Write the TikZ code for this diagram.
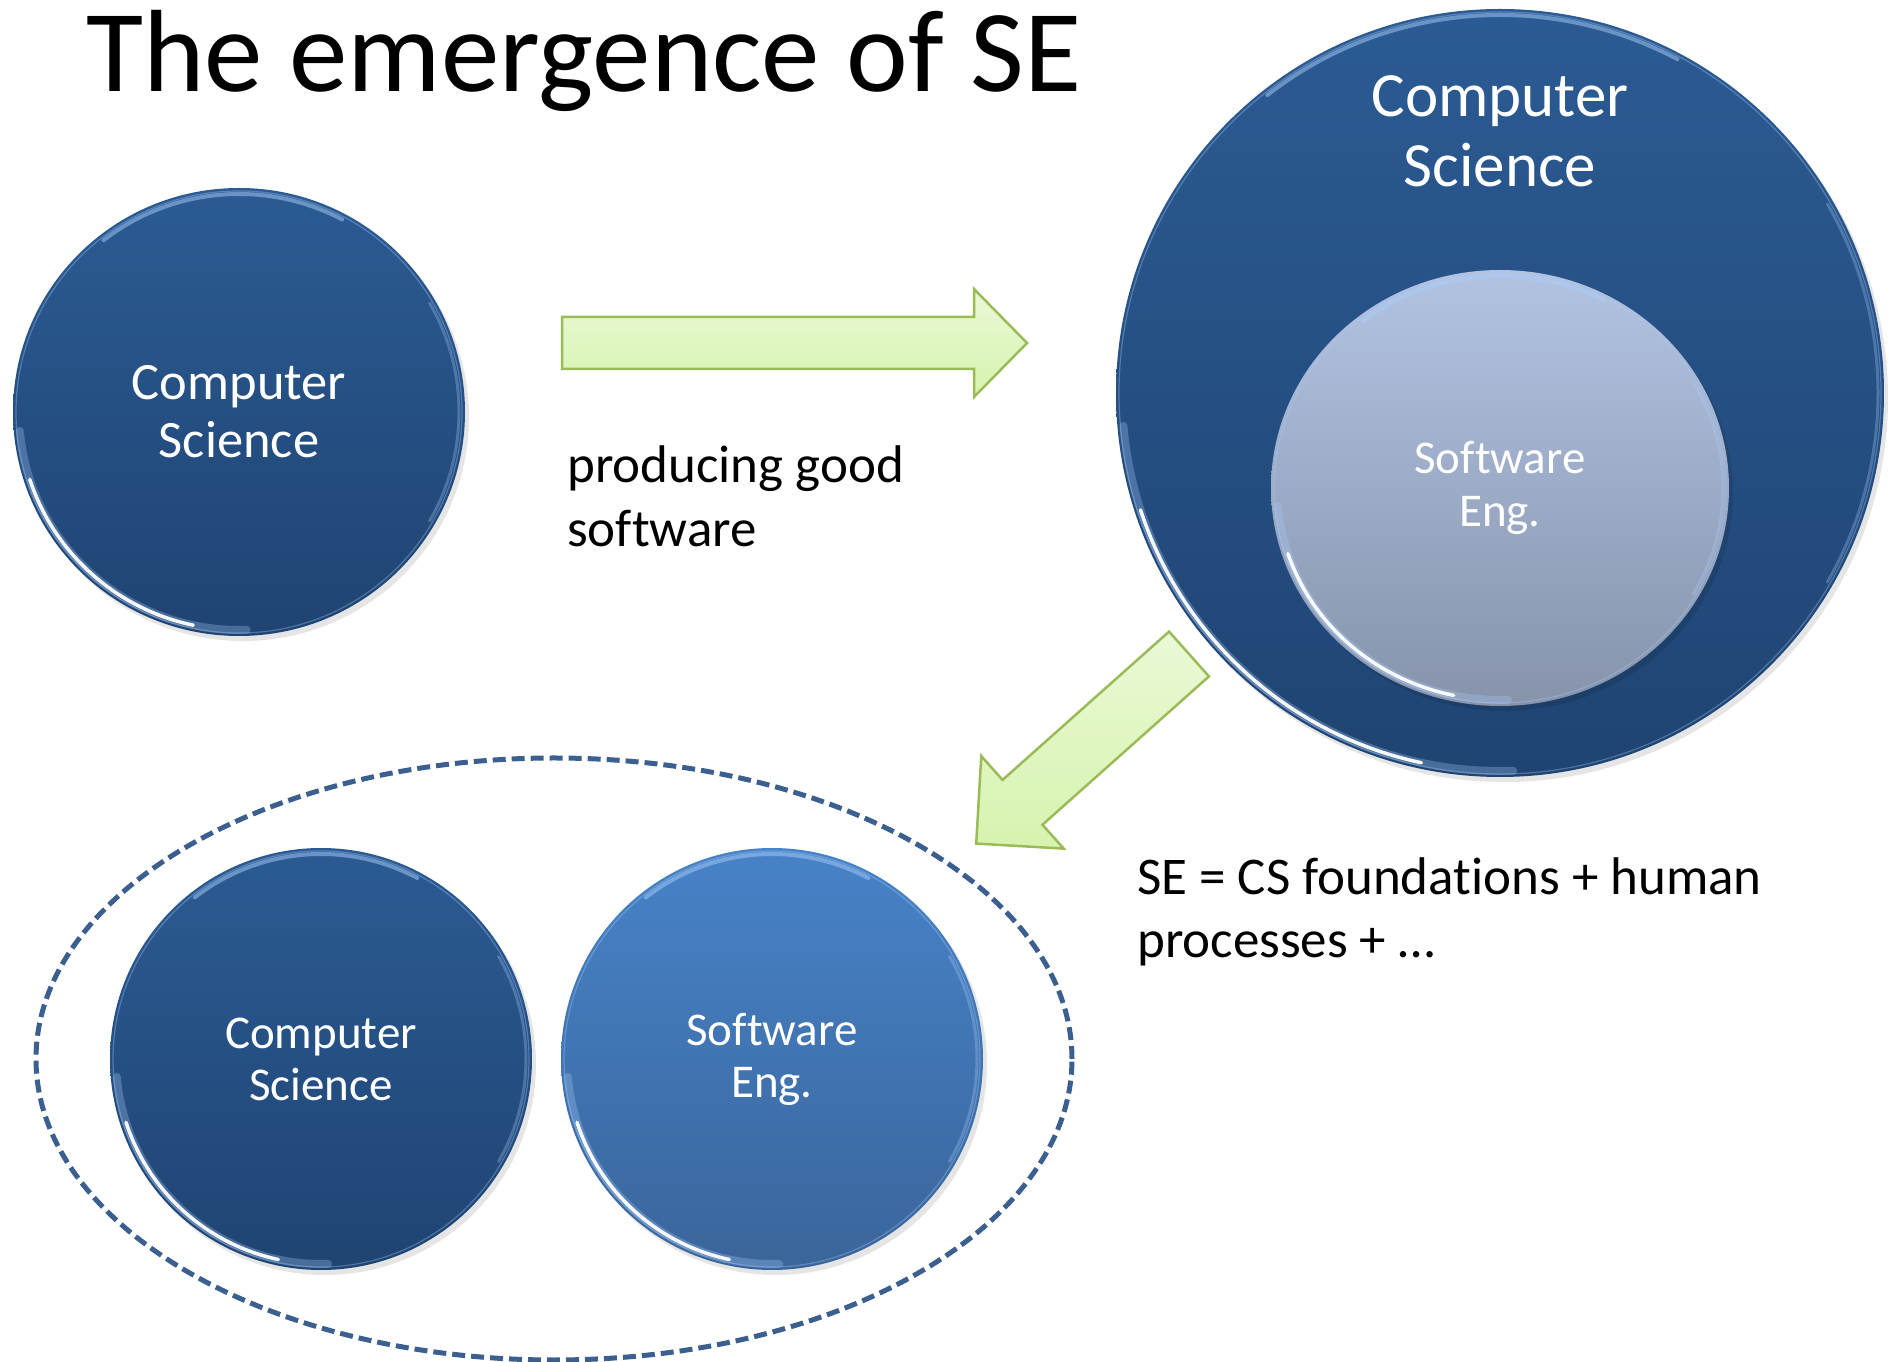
\documentclass[tikz,border=0pt]{standalone}
\usepackage{fontspec}
\setmainfont{Carlito}[Ligatures=NoCommon]
\usetikzlibrary{shapes.geometric}

\definecolor{csTop}{RGB}{43,91,148}
\definecolor{csBot}{RGB}{31,68,114}
\definecolor{seTop}{RGB}{71,131,200}
\definecolor{seBot}{RGB}{58,101,155}
\definecolor{inTop}{RGB}{178,195,226}
\definecolor{inBot}{RGB}{134,147,171}
\definecolor{arrowLine}{RGB}{155,187,89}
\definecolor{arrowTop}{RGB}{234,249,214}
\definecolor{arrowBot}{RGB}{214,243,174}
\definecolor{dashBlue}{RGB}{59,95,142}
\definecolor{rimBlue}{RGB}{170,205,250}

\tikzset{
  disc/.style={ellipse, inner sep=0pt, outer sep=0pt, text=white, align=center},
  discshadow/.style={fill=black, opacity=0.10},
  rimbright/.style={white, line width=3.5pt, opacity=0.95, line cap=round},
  rimsoft/.style={rimBlue, line width=8pt, opacity=0.30, line cap=round},
  rimtop/.style={rimBlue, line width=4pt, opacity=0.5, line cap=round},
  rimedge/.style={rimBlue, line width=1.2pt, opacity=0.35},
  blockarrow/.style={draw=arrowLine, line width=2.5pt, line join=miter,
    top color=arrowTop, bottom color=arrowBot},
  caption/.style={align=left, text=black, inner sep=0pt},
  group/.style={ellipse, draw=dashBlue, line width=5pt, dash pattern=on 13pt off 6pt,
    inner sep=0pt, outer sep=0pt},
}

% bevel highlights round a disc: node name, x radius, y radius
\newcommand\discbevel[3]{%
  \draw[rimedge] (#1.center) ellipse[x radius=#2+3, y radius=#3+3];
  \draw[rimsoft] (#1.center) ++(185:#2 and #3) arc[start angle=185, end angle=272, x radius=#2, y radius=#3];
  \draw[rimbright] (#1.center) ++(198:#2 and #3) arc[start angle=198, end angle=258, x radius=#2, y radius=#3];
  \draw[rimtop] (#1.center) ++(62:#2 and #3) arc[start angle=62, end angle=128, x radius=#2, y radius=#3];
  \draw[rimsoft, line width=3pt] (#1.center) ++(-30:#2 and #3) arc[start angle=-30, end angle=30, x radius=#2, y radius=#3];
}

% block arrow pointing along +x: shaft length, shaft half width, total length, head half width
\newcommand\blockarrowpath[4]{%
  (0,-#2) -- (#1,-#2) -- (#1,-#4) -- (#3,0) -- (#1,#4) -- (#1,#2) -- (0,#2) -- cycle}

\begin{document}
\begin{tikzpicture}[x=1pt, y=1pt]
\useasboundingbox (0,0) rectangle (1891,1361);

% title
\node[anchor=base west, inner sep=0pt, font=\fontsize{117}{140}\selectfont] (title) at (86,1269) {The emergence of SE};

% stage 1: computer science alone
\fill[discshadow] (243,944) ellipse[x radius=226, y radius=224];
\node[disc, top color=csTop, bottom color=csBot, minimum width=452, minimum height=448] (cs1) at (239,949) {};
\discbevel{cs1}{220}{218}
\node[anchor=base, inner sep=0pt, align=center, text=white, font=\fontsize{52.5}{58}\selectfont] (cs1label) at (239,903) {Computer\\Science};

% arrow to stage 2
\coordinate (growtail) at (562,1018);
\begin{scope}[shift={(growtail)}]
  \path[blockarrow] \blockarrowpath{412}{26}{465}{54};
\end{scope}
\node[caption, anchor=base west, font=\fontsize{53}{64}\selectfont] (why) at (567,814) {producing good\\software};

% stage 2: software engineering inside computer science
\fill[discshadow] (1504,963) ellipse[x radius=384, y radius=384];
\node[disc, top color=csTop, bottom color=csBot, minimum width=768, minimum height=768] (cs2) at (1500,968) {};
\discbevel{cs2}{378}{378}
\node[anchor=base, inner sep=0pt, align=center, text=white, font=\fontsize{63}{70}\selectfont] (cs2label) at (1500,1174) {Computer\\Science};

\fill[discshadow] (1504,868) ellipse[x radius=229, y radius=218];
\node[disc, top color=inTop, bottom color=inBot, minimum width=458, minimum height=436,
  font=\fontsize{47}{53}\selectfont] (se2) at (1500,873) {Software\\Eng.};
\discbevel{se2}{223}{212}

% arrow to stage 3
\coordinate (splittail) at (1189,707);
\begin{scope}[shift={(splittail)}, rotate=221.7]
  \path[blockarrow] \blockarrowpath{223}{30}{285}{62};
\end{scope}
\node[caption, anchor=base west, font=\fontsize{53}{63}\selectfont] (what) at (1137,403) {SE = CS foundations + human\\processes + \dots};

% stage 3: two separate disciplines
\node[group, minimum width=1036, minimum height=602] (grp) at (554,302) {};

\fill[discshadow] (325,297) ellipse[x radius=211, y radius=211];
\node[disc, top color=csTop, bottom color=csBot, minimum width=422, minimum height=422,
  font=\fontsize{47}{52}\selectfont] (cs3) at (321,302) {Computer\\Science};
\discbevel{cs3}{205}{205}

\fill[discshadow] (776,297) ellipse[x radius=211, y radius=211];
\node[disc, top color=seTop, bottom color=seBot, minimum width=422, minimum height=422,
  font=\fontsize{47}{52}\selectfont] (se3) at (772,302) {Software\\Eng.};
\discbevel{se3}{205}{205}
\end{tikzpicture}
\end{document}
